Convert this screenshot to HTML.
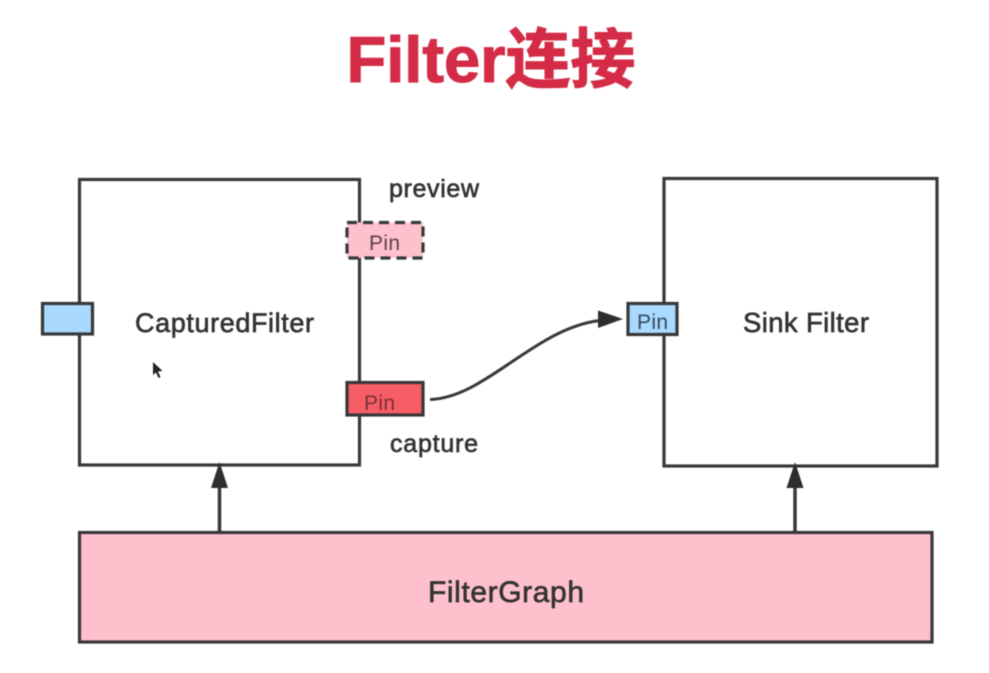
<!DOCTYPE html>
<html>
<head>
<meta charset="utf-8">
<style>
html,body{margin:0;padding:0;background:#fff;}
svg{display:block;filter:blur(0.45px);}
text{font-family:"Liberation Sans","Noto Sans CJK SC",sans-serif;fill:#333;}
.m{stroke:#333;stroke-width:0.65;}
</style>
</head>
<body>
<svg width="989" height="673" viewBox="0 0 989 673" xmlns="http://www.w3.org/2000/svg">
<rect width="989" height="673" fill="#fff"/>
<text x="346.5" y="82" font-size="65" font-weight="700" style="fill:#d42c46" stroke="#d42c46" stroke-width="1.1">Filter<tspan>连接</tspan></text>

<rect x="79.5" y="179.5" width="280" height="285.5" fill="#fff" stroke="#383838" stroke-width="3.2"/>
<rect x="664" y="178.5" width="273" height="287.5" fill="#fff" stroke="#383838" stroke-width="3.2"/>
<rect x="79.5" y="532.5" width="852.5" height="109.5" fill="#ffc0cd" stroke="#383838" stroke-width="3.2"/>

<rect x="42.5" y="303.5" width="50" height="30.5" fill="#a9d9ff" stroke="#383838" stroke-width="3.2"/>
<rect x="347" y="222.5" width="76" height="35.5" fill="#ffc0cd" stroke="#383838" stroke-width="3.2" stroke-dasharray="10 6"/>
<rect x="347" y="382.5" width="76" height="32.5" fill="#f65d65" stroke="#383838" stroke-width="3.2"/>
<rect x="628" y="303.5" width="49" height="31" fill="#a9d9ff" stroke="#383838" stroke-width="3.2"/>

<path d="M430 399.5 C485 398 535 328 600 320.5" fill="none" stroke="#383838" stroke-width="3"/>
<polygon points="623,319 598,310.5 598,328" fill="#2e2e2e"/>

<line x1="219.5" y1="532" x2="219.5" y2="485" stroke="#383838" stroke-width="3.5"/>
<polygon points="219.5,462 211,488 228,488" fill="#2e2e2e"/>
<line x1="795" y1="532" x2="795" y2="485" stroke="#383838" stroke-width="3.5"/>
<polygon points="795,462 786.5,488 803.5,488" fill="#2e2e2e"/>

<text class="m" x="135" y="332" font-size="27" textLength="179" lengthAdjust="spacing">CapturedFilter</text>
<text class="m" x="743" y="332" font-size="27.5" textLength="126" lengthAdjust="spacing">Sink Filter</text>
<text class="m" x="428" y="602" font-size="30" textLength="156" lengthAdjust="spacing">FilterGraph</text>
<text class="m" x="389" y="197" font-size="25" textLength="90" lengthAdjust="spacing">preview</text>
<text class="m" x="390" y="452" font-size="25" textLength="88" lengthAdjust="spacing">capture</text>
<text x="369" y="250" font-size="21" textLength="31" lengthAdjust="spacing" style="fill:#5a4248">Pin</text>
<text x="364" y="410" font-size="21" textLength="31" lengthAdjust="spacing" style="fill:#7a2f36">Pin</text>
<text x="637" y="329" font-size="21" textLength="31" lengthAdjust="spacing" style="fill:#36495a">Pin</text>

<polygon points="153,362 153,375 156,372.5 158.5,378 160.5,377 158,371.5 162.5,371" fill="#222"/>
</svg>
</body>
</html>
